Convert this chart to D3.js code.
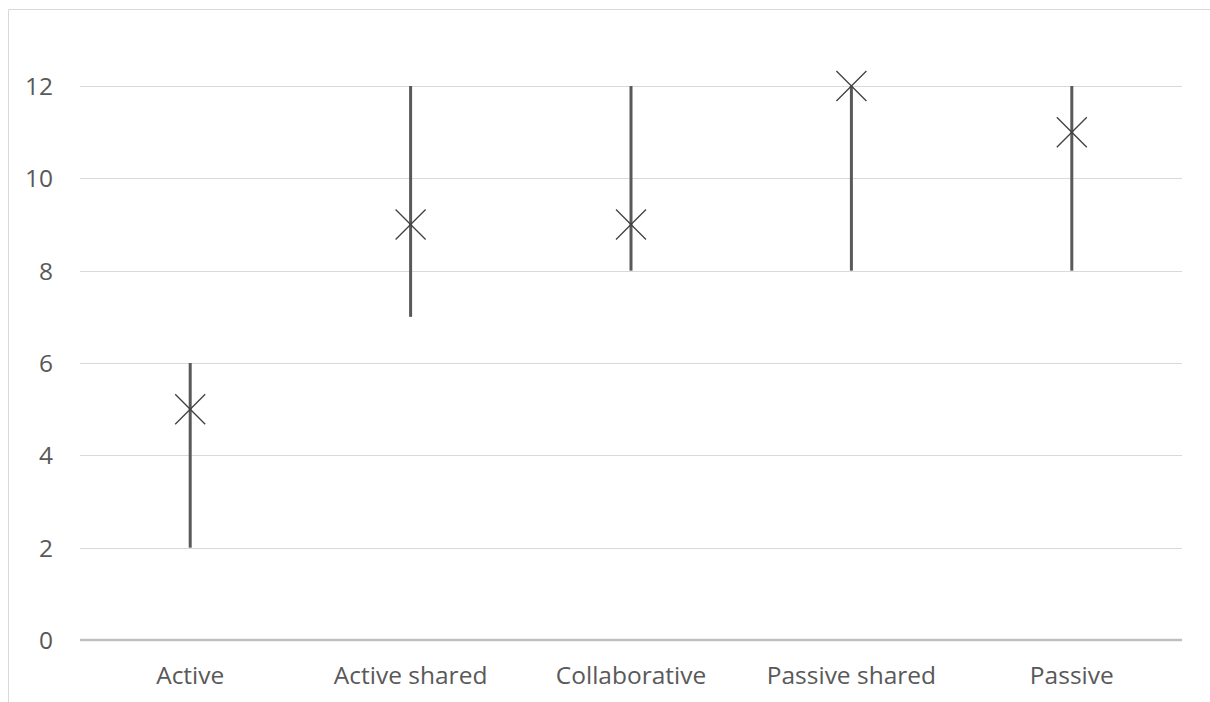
<!DOCTYPE html>
<html><head><meta charset="utf-8">
<script src="https://cdn.jsdelivr.net/npm/d3@7"></script>
<style>body{margin:0;background:#fff;}svg{display:block;}</style>
</head><body>
<script>
const categories = ["Active","Active shared","Collaborative","Passive shared","Passive"];
const highValues = [6,12,12,12,12];
const lowValues = [2,7,8,8,8];
const markValues = [5,9,9,12,11];
const yTicks = [0,2,4,6,8,10,12];

const W=1210,H=702;
const svg=d3.select("body").append("svg").attr("width",W).attr("height",H);
svg.append("rect").attr("width",W).attr("height",H).attr("fill","#fff");
// chart frame
svg.append("path").attr("d","M8.5,702 L8.5,9.5 L1210,9.5").attr("fill","none").attr("stroke","#d9d9d9").attr("stroke-width",1);

const x=d3.scaleBand().domain(categories).range([80,1182]);
const y=d3.scaleLinear().domain([0,12]).range([640,86]);

const g=svg.append("g");
g.selectAll("line.grid").data(yTicks.filter(d=>d>0)).join("line")
 .attr("x1",80).attr("x2",1182).attr("y1",d=>Math.round(y(d))+0.5).attr("y2",d=>Math.round(y(d))+0.5)
 .attr("stroke","#d9d9d9").attr("stroke-width",1);
g.append("line").attr("x1",80).attr("x2",1182).attr("y1",y(0)).attr("y2",y(0)).attr("stroke","#bfbfbf").attr("stroke-width",2.4);

const yAxis=d3.axisLeft(y).tickValues(yTicks).tickSize(0).tickPadding(0);
const ya=svg.append("g").attr("transform","translate(53,0)").call(yAxis);
ya.select(".domain").remove();
ya.attr("font-size",null).attr("font-family",null);
ya.selectAll("text").attr("font-family","'Open Sans', sans-serif").style("font-size","24.5px").attr("fill","#595959").attr("text-anchor","end").attr("dy","0.35em");

const xAxis=d3.axisBottom(x).tickSize(0).tickPadding(0);
const xa=svg.append("g").attr("transform","translate(0,684)").call(xAxis);
xa.select(".domain").remove();
xa.attr("font-size",null).attr("font-family",null);
xa.selectAll("text").attr("font-family","'Open Sans', sans-serif").style("font-size","24.5px").attr("fill","#595959").attr("dy",0).attr("y",0);

const cx=c=>x(c)+x.bandwidth()/2;
svg.selectAll("line.hl").data(categories).join("line")
 .attr("x1",cx).attr("x2",cx).attr("y1",(c,i)=>y(lowValues[i])).attr("y2",(c,i)=>y(highValues[i]))
 .attr("stroke","#595959").attr("stroke-width",3);
const s=15;
svg.selectAll("path.mk").data(categories).join("path")
 .attr("d",(c,i)=>{const px=cx(c),py=y(markValues[i]);return `M${px-s},${py-s}L${px+s},${py+s}M${px-s},${py+s}L${px+s},${py-s}`;})
 .attr("stroke","#404040").attr("stroke-width",1.3).attr("fill","none");
</script>
</body></html>
